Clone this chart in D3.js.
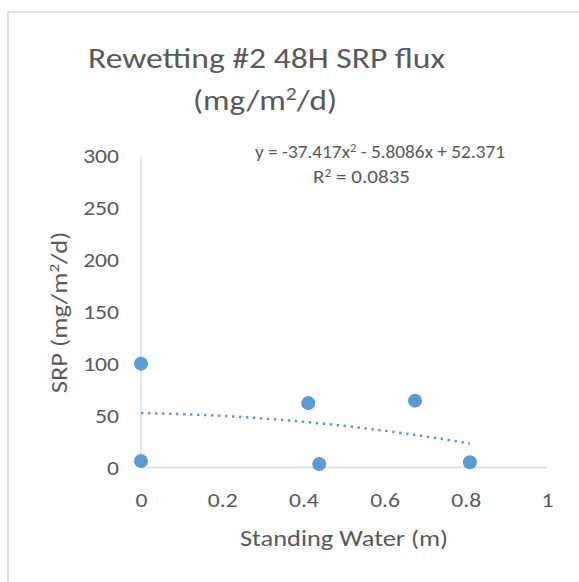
<!DOCTYPE html>
<html>
<head>
<meta charset="utf-8">
<script src="https://cdn.jsdelivr.net/npm/d3@7"></script>
<style>
  html, body { margin: 0; padding: 0; background: #fff; }
  svg { display: block; }
  text { font-family: Carlito, Calibri, Lato, sans-serif; fill: #595959; }
</style>
</head>
<body>
<svg id="chart" width="579" height="582"></svg>
<script>
// ---- data ----
const standingWater = [0, 0, 0.412, 0.439, 0.675, 0.81];
const srpFlux = [100, 6.3, 62, 3.4, 64.4, 5];
const xTicks = [0, 0.2, 0.4, 0.6, 0.8, 1];
const yTicks = [0, 50, 100, 150, 200, 250, 300];
const trendCoefs = [-37.417, -5.8086, 52.371]; // a x^2 + b x + c
const trendSamples = d3.range(0, 82).map(i => i / 100); // x from 0 to 0.81

const svg = d3.select("#chart");
const W = 579, H = 582;
const FONT = "Carlito, Calibri, Lato, sans-serif";
const SX = 1.18; // horizontal glyph stretch seen in the reference

// outer chart border (extends past the photo on right/bottom)
svg.append("rect")
  .attr("x", 8).attr("y", 12)
  .attr("width", W + 20).attr("height", H + 20)
  .attr("fill", "#fff").attr("stroke", "#d9d9d9").attr("stroke-width", 1.5);

const x = d3.scaleLinear().domain([0, 1]).range([141, 547]);
const y = d3.scaleLinear().domain([0, 300]).range([467.5, 156]);

// axis lines
svg.append("line").attr("x1", x(0)).attr("x2", x(1)).attr("y1", y(0)).attr("y2", y(0))
  .attr("stroke", "#d9d9d9").attr("stroke-width", 1.3);
svg.append("line").attr("x1", x(0)).attr("x2", x(0)).attr("y1", y(0)).attr("y2", y(300))
  .attr("stroke", "#d9d9d9").attr("stroke-width", 1.3);

// tick labels via axes
const xAxis = svg.append("g").attr("transform", `translate(0,${y(0)})`)
  .call(d3.axisBottom(x).tickValues(xTicks).tickSize(0).tickFormat(d3.format("")));
xAxis.select(".domain").remove();
xAxis.selectAll("text")
  .attr("dy", null).attr("y", 39.5)
  .attr("transform", `scale(${SX},1)`)
  .style("font-size", "20px").style("font-family", FONT).attr("fill", "#595959");

const yAxis = svg.append("g").attr("transform", `translate(${x(0)},0)`)
  .call(d3.axisLeft(y).tickValues(yTicks).tickSize(0));
yAxis.select(".domain").remove();
yAxis.selectAll("text")
  .attr("dy", null).attr("y", 6.7).attr("x", -22 / SX)
  .attr("transform", `scale(${SX},1)`)
  .style("font-size", "20px").style("font-family", FONT).attr("fill", "#595959");

// trendline
const poly = v => trendCoefs[0] * v * v + trendCoefs[1] * v + trendCoefs[2];
svg.append("path")
  .datum(trendSamples)
  .attr("d", d3.line().x(d => x(d)).y(d => y(poly(d))))
  .attr("fill", "none").attr("stroke", "#5b9bd5").attr("stroke-width", 2.5)
  .attr("stroke-dasharray", "2.5 4.5");

// points
svg.append("g").selectAll("circle")
  .data(standingWater.map((v, i) => [v, srpFlux[i]]))
  .join("circle")
  .attr("cx", d => x(d[0])).attr("cy", d => y(d[1])).attr("r", 7)
  .attr("fill", "#5b9bd5");

// helper: centred text with fixed length
function label(cx, by, size, len, parts) {
  const t = svg.append("text").attr("x", cx - len / 2).attr("y", by)
    .attr("textLength", len).attr("lengthAdjust", "spacingAndGlyphs")
    .style("font-size", size + "px");
  parts.forEach(p => {
    const s = t.append("tspan").text(p.t);
    if (p.sup) s.attr("dy", -size * 0.36).style("font-size", (size * 0.65) + "px");
    if (p.after) s.attr("dy", size * 0.36);
  });
  return t;
}

// title
label(266.5, 68.3, 28, 357, [{t: "Rewetting #2 48H SRP flux"}]);
label(265, 110, 28, 144, [{t: "(mg/m"}, {t: "2", sup: true}, {t: "/d)", after: true}]);

// equation
label(380, 158.3, 18, 250, [{t: "y = -37.417x"}, {t: "2", sup: true}, {t: " - 5.8086x + 52.371", after: true}]);
label(361.5, 183, 18, 97, [{t: "R"}, {t: "2", sup: true}, {t: " = 0.0835", after: true}]);

// axis titles
label(344, 545.7, 23, 208, [{t: "Standing Water (m)"}]);
const yt = svg.append("text")
  .attr("transform", "translate(67.3,312.5) rotate(-90)")
  .attr("x", -161.6 / 2).attr("y", 0)
  .attr("textLength", 161.6).attr("lengthAdjust", "spacingAndGlyphs")
  .style("font-size", "22px");
yt.append("tspan").text("SRP (mg/m");
yt.append("tspan").attr("dy", -8).style("font-size", "14px").text("2");
yt.append("tspan").attr("dy", 8).text("/d)");
</script>
</body>
</html>
